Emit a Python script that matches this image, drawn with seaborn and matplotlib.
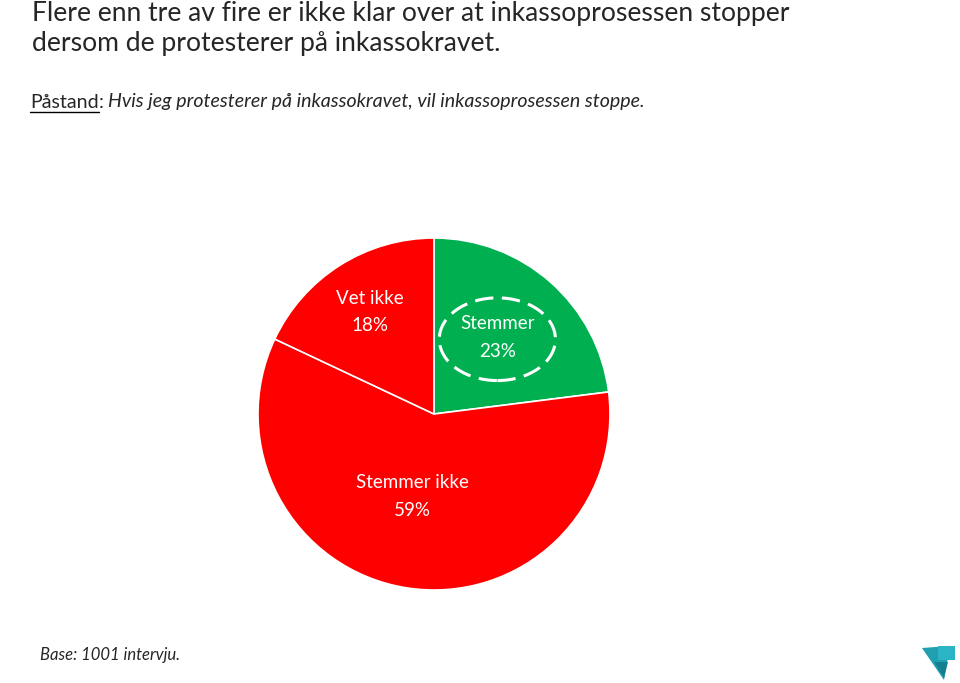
#! /usr/bin/env python3
'''
Pie chart: awareness that debt collection stops on protest
'''

import matplotlib.pyplot as plt
from matplotlib.patches import Ellipse, Polygon
import seaborn as sns

# data
LABELS = ['Stemmer', 'Stemmer ikke', 'Vet ikke']
SHARES = [23, 59, 18]
COLORS = ['#00B050', '#FF0000', '#FF0000']
TITLE = ('Flere enn tre av fire er ikke klar over at inkassoprosessen stopper\n'
         'dersom de protesterer på inkassokravet.')
CLAIM = 'Hvis jeg protesterer på inkassokravet, vil inkassoprosessen stoppe.'
BASE = 'Base: 1001 intervju.'

sns.set_theme(style='white')
plt.rcParams['font.family'] = ['Lato', 'DejaVu Sans']

fig = plt.figure(figsize=(9.6, 6.83), dpi=100)
W, H = 960, 683

# pie axes placed in pixel terms: centre (434, 414), radius 176
cx, cy, r = 434, 414, 176
ax = fig.add_axes([(cx - r) / W, (H - cy - r) / H, 2 * r / W, 2 * r / H])
wedges, _ = ax.pie(SHARES, colors=COLORS, startangle=90, counterclock=False,
                   wedgeprops=dict(edgecolor='white', linewidth=1.2))
ax.set_xlim(-1, 1); ax.set_ylim(-1, 1); ax.set_aspect('auto'); ax.axis('off')

# labels inside slices
label_pos = {'Stemmer': (0.36, 0.435), 'Stemmer ikke': (-0.125, -0.47), 'Vet ikke': (-0.365, 0.58)}
for name, share in zip(LABELS, SHARES):
    x, y = label_pos[name]
    ax.text(x, y, f'{name}\n{share}%', ha='center', va='center', color='white',
            fontsize=13.5, linespacing=1.75)

# dashed ring around the highlighted answer
ax.add_patch(Ellipse((0.36, 0.425), 0.66, 0.47, fill=False, edgecolor='white',
                     linewidth=2.2, linestyle=(0, (6, 2.8))))

# title and statement
fig.text(32 / W, 1 - 1 / H, TITLE, ha='left', va='top', fontsize=19.1, linespacing=1.25)
t1 = fig.text(30 / W, 1 - 102 / H, 'Påstand', ha='left', va='center', fontsize=14.1)
fig.canvas.draw()
bb = t1.get_window_extent()
fig.add_artist(plt.Line2D([bb.x0 / W, bb.x1 / W], [(bb.y0 - 1) / H, (bb.y0 - 1) / H],
                          color='black', linewidth=1, transform=fig.transFigure))
t2 = fig.text(bb.x1 / W, 1 - 102 / H, ': ', ha='left', va='center', fontsize=14.1)
fig.canvas.draw()
bb2 = t2.get_window_extent()
fig.text(bb2.x1 / W, 1 - 102 / H, CLAIM, ha='left', va='center', fontsize=14.1, style='italic')

fig.text(40 / W, 1 - 655 / H, BASE, ha='left', va='center', fontsize=12, style='italic')

# small logo bottom right
logo = [[(922, 648), (950, 646), (944, 680)], [(938, 646), (955, 646), (955, 660), (938, 660)],
        [(934, 662), (948, 662), (944, 678)]]
for pts, col in zip(logo, ['#1f9fb0', '#2bb3c6', '#147f90']):
    fig.add_artist(Polygon([(x / W, 1 - y / H) for x, y in pts], closed=True,
                           facecolor=col, edgecolor='none', transform=fig.transFigure))

fig.savefig('out.png', dpi=100)
